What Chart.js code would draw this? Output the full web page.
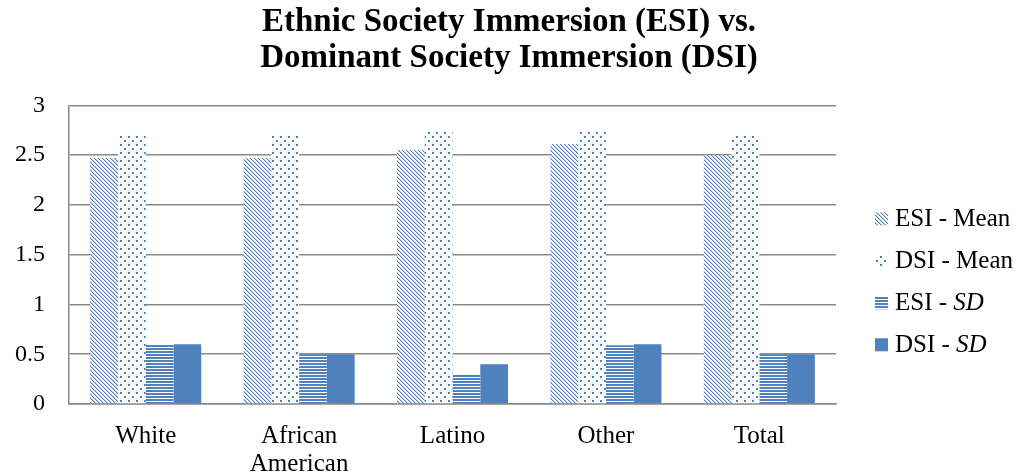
<!DOCTYPE html>
<html>
<head>
<meta charset="utf-8">
<script src="https://cdn.jsdelivr.net/npm/chart.js@4/dist/chart.umd.min.js"></script>
<style>
	html, body { margin: 0; padding: 0; background: #fff; }
	#contenedor { width: 1018px; height: 474px; }
</style>
</head>
<body>
<div id="contenedor"><canvas id="inmersion"></canvas></div>
<script>
const categorias = ['White', ['African', 'American'], 'Latino', 'Other', 'Total']
const series = ['ESI - Mean', 'DSI - Mean', 'ESI - SD', 'DSI - SD']
const esi_media = [2.47, 2.47, 2.55, 2.61, 2.50]
const dsi_media = [2.70, 2.70, 2.74, 2.74, 2.70]
const esi_de = [0.60, 0.50, 0.29, 0.59, 0.50]
const dsi_de = [0.60, 0.50, 0.40, 0.60, 0.50]
const titulo = ['Ethnic Society Immersion (ESI) vs.', 'Dominant Society Immersion (DSI)']

const azul = '#4f81bd'
const fuente = "'Liberation Serif', serif"

// tramas tipo Excel
const trama = (w, h, dibujar) => {
	const c = document.createElement('canvas')
	c.width = w
	c.height = h
	const g = c.getContext('2d')
	g.fillStyle = '#fff'
	g.fillRect(0, 0, w, h)
	dibujar(g)
	return c.getContext('2d').createPattern(c, 'repeat')
}

const inmersion = () => {
	const diagonal = trama(4, 4, g => {
		for (let i = 0; i < 4; i++) {
			g.fillStyle = azul
			g.fillRect(i, i, 1, 1)
			g.fillStyle = '#b9cde5'
			g.fillRect((i + 1) % 4, i, 1, 1)
		}
	})
	const puntos = trama(8, 8, g => {
		g.fillStyle = azul
		g.fillRect(0, 0, 2, 2)
		g.fillRect(4, 4, 2, 2)
	})
	const rayas = trama(3, 3, g => {
		g.fillStyle = azul
		g.fillRect(0, 0, 3, 2)
	})

	const data = {
		labels: categorias,
		datasets: [
			{ label: series[0], data: esi_media, backgroundColor: diagonal },
			{ label: series[1], data: dsi_media, backgroundColor: puntos },
			{ label: series[2], data: esi_de, backgroundColor: rayas },
			{ label: series[3], data: dsi_de, backgroundColor: azul }
		]
	}

	// leyenda dibujada a mano para poder poner SD en cursiva
	const leyenda = {
		id: 'leyenda',
		afterDraw(chart) {
			const ctx = chart.ctx
			const x = chart.chartArea.right + 39
			const y0 = chart.chartArea.top + 113
			ctx.save()
			ctx.textBaseline = 'middle'
			chart.data.datasets.forEach((ds, i) => {
				const y = y0 + i * 42
				ctx.fillStyle = ds.backgroundColor
				ctx.fillRect(x, y - 6, 13, 13)
				ctx.fillStyle = '#000'
				let tx = x + 20
				const partes = ds.label.endsWith('SD') ? [ds.label.slice(0, -2), 'SD'] : [ds.label]
				partes.forEach((p, j) => {
					ctx.font = (j == 1 ? 'italic ' : '') + '25px ' + fuente
					ctx.fillText(p, tx, y + 1)
					tx += ctx.measureText(p).width
				})
			})
			ctx.restore()
		}
	}

	const ctx = document.getElementById('inmersion').getContext('2d')

	const chart = new Chart(ctx, {
		type: 'bar',
		data: data,
		plugins: [leyenda],
		options: {
			responsive: true,
			maintainAspectRatio: false,
			animation: false,
			layout: { padding: 0 },
			datasets: {
				bar: { categoryPercentage: 0.724, barPercentage: 1, borderWidth: 0 }
			},
			plugins: {
				legend: { display: false },
				tooltip: { enabled: false },
				title: {
					display: true,
					text: titulo,
					color: '#000',
					font: { family: fuente, size: 33, weight: 'bold', lineHeight: 1.08 },
					padding: { top: 5, bottom: 29 }
				}
			},
			scales: {
				x: {
					grid: { display: false },
					border: { display: true, color: '#898989', width: 1.5 },
					ticks: { color: '#000', padding: 11, maxRotation: 0, autoSkip: false, font: { family: fuente, size: 25, lineHeight: 1.1 } },
					afterFit: s => { s.height = 70 }
				},
				y: {
					min: 0,
					max: 3,
					ticks: { stepSize: 0.5, color: '#000', padding: 24, font: { family: fuente, size: 24 }, callback: v => String(v) },
					grid: { color: '#898989', lineWidth: 1.5, drawTicks: false },
					border: { display: true, color: '#898989', width: 1.5 },
					afterFit: s => { s.width = 69 }
				},
				espacio: {
					type: 'linear',
					position: 'right',
					grid: { display: false },
					border: { display: false },
					ticks: { display: false },
					afterFit: s => { s.width = 182 }
				}
			}
		}
	})
}

window.addEventListener('load', inmersion)
</script>
</body>
</html>
